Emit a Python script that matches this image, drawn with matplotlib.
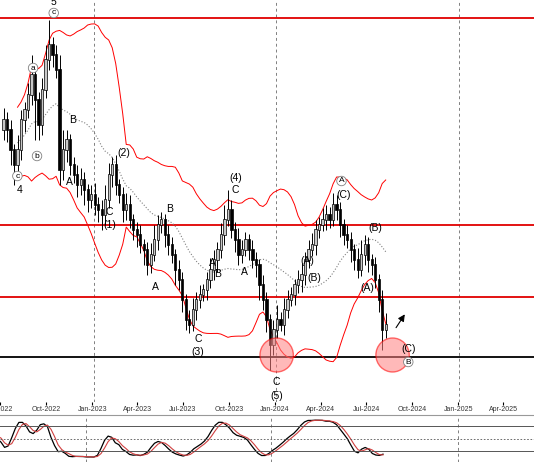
import matplotlib
matplotlib.use("Agg")
import matplotlib.pyplot as plt
import matplotlib.dates as mdates
from matplotlib.patches import Ellipse
import numpy as np
import pandas as pd

plt.rcParams['font.family'] = ['Liberation Sans', 'DejaVu Sans']

# weekly closes (chart price units)
closes = [280, 270, 250, 235, 250, 280, 290, 305, 325, 300, 275, 310, 340, 355, 345, 330,
          230, 250, 260, 235, 225, 215, 220, 210, 200, 205, 195, 190, 185, 200, 225, 235,
          215, 205, 190, 195, 180, 170, 165, 155, 150, 135, 145, 160, 175, 180, 165, 155,
          145, 130, 120, 100, 80, 75, 90, 100, 105, 110, 120, 130, 140, 150, 165, 180,
          190, 170, 160, 145, 150, 160, 150, 140, 135, 115, 100, 80, 55, 70, 80, 75,
          90, 100, 105, 115, 120, 125, 140, 150, 155, 170, 175, 180, 185, 180, 195, 190,
          175, 165, 160, 150, 140, 130, 145, 155, 140, 135, 120, 100, 70, 75]
wick_up = [12, 8, 10, 6, 15, 10, 8, 12, 20, 10, 8, 12, 15, 25, 8, 10,
           15, 20, 10, 6, 8, 10, 12, 8, 6, 10, 12, 8, 10, 15, 12, 8,
           10, 6, 8, 12, 10, 6, 8, 10, 6, 8, 12, 15, 10, 8, 6, 10,
           8, 6, 10, 8, 6, 10, 12, 8, 10, 6, 8, 12, 10, 8, 12, 15,
           20, 10, 8, 12, 10, 8, 6, 10, 8, 6, 10, 8, 6, 10, 15, 8,
           12, 10, 8, 6, 10, 12, 8, 10, 12, 10, 8, 12, 10, 8, 12, 10,
           8, 6, 10, 8, 6, 12, 15, 10, 8, 6, 8, 6, 10, 12]
wick_dn = [10, 12, 15, 20, 8, 10, 12, 8, 10, 40, 15, 10, 8, 10, 12, 8,
           15, 10, 12, 10, 8, 12, 10, 15, 12, 8, 10, 12, 15, 10, 8, 12,
           10, 8, 12, 10, 8, 10, 12, 8, 15, 10, 8, 6, 10, 8, 12, 10,
           8, 15, 10, 12, 10, 8, 6, 10, 8, 6, 10, 8, 10, 12, 8, 10,
           6, 8, 12, 10, 8, 6, 10, 8, 12, 15, 10, 12, 25, 10, 8, 6,
           10, 8, 6, 10, 8, 12, 10, 8, 6, 10, 8, 6, 10, 8, 6, 10,
           12, 10, 8, 12, 10, 8, 6, 10, 12, 10, 8, 12, 20, 8]
dates = pd.date_range('2022-07-08', periods=len(closes), freq='7D')

levels_red = [382, 175, 103]
level_black = 43

labels = [("5", 45, 2, False), ("c", 45, 13, True), ("a", 24, 68, True), ("b", 28, 156, True),
          ("c", 8, 176, True), ("4", 10, 190, False), ("B", 64, 120, False), ("A", 61, 182, False),
          ("(2)", 116, 153, False), ("C", 102, 212, False), ("(1)", 102, 225, False),
          ("B", 163, 209, False), ("A", 149, 287, False), ("A", 207, 263, False),
          ("B", 212, 274, False), ("A", 239, 272, False), ("C", 230, 190, False),
          ("(4)", 230, 178, False), ("C", 192, 339, False), ("(3)", 192, 352, False),
          ("C", 272, 382, False), ("(5)", 272, 396, False), ("(A)", 303, 261, False),
          ("(B)", 310, 278, False), ("A", 338, 181, True), ("(C)", 340, 195, False),
          ("(B)", 372, 228, False), ("(A)", 364, 288, False), ("(C)", 406, 349, False),
          ("B", 406, 362, True)]

x0 = mdates.date2num(pd.Timestamp('2022-07-20'))
def X(px):
    return x0 + px / 0.51
def Y(py):
    return 400 - py

c = np.array(closes, float)
o = np.r_[270, c[:-1]]
hi = np.maximum(o, c) + np.array(wick_up)
lo = np.minimum(o, c) - np.array(wick_dn)
d = mdates.date2num(dates)

fig = plt.figure(figsize=(5.34, 4.62), dpi=100)
ax = fig.add_axes([0, 1 - 402 / 462, 1, 402 / 462])
ax2 = fig.add_axes([0, 0, 1, 47 / 462])

for i in range(len(c)):
    ax.vlines(d[i], lo[i], hi[i], color='black', lw=0.7, zorder=3)
    up = c[i] >= o[i]
    ax.bar(d[i], abs(c[i] - o[i]) + 1, bottom=min(o[i], c[i]), width=4.5,
           color='#c8c8c8' if up else 'black', edgecolor='black', lw=0.5, zorder=4)

s = pd.Series(c)
ma = s.rolling(20, min_periods=5).mean()
sd = s.rolling(20, min_periods=5).std()
ax.plot(d, ma, color='gray', ls=':', lw=0.8, zorder=2)
ax.plot(d, ma + 2 * sd, color='red', lw=0.7, zorder=2)
ax.plot(d, ma - 2 * sd, color='red', lw=0.7, zorder=2)

for lv in levels_red:
    ax.axhline(lv, color='#e00000', lw=1.3, zorder=1)
ax.axhline(level_black, color='black', lw=1.3, zorder=1)

for px in (86, 271, 458):
    ax.axvline(X(px), color='gray', ls=(0, (3, 3)), lw=0.7, zorder=0)
    ax2.axvline(X(px), color='gray', ls=(0, (3, 3)), lw=0.7, zorder=0)

for px, py in ((272, 355), (390, 355)):
    ax.add_patch(Ellipse((X(px), Y(py)), 34 / 0.51, 34, facecolor='#ff8080', alpha=0.55,
                         edgecolor='red', lw=1, zorder=5))

ax.annotate('', xy=(X(404), Y(312)), xytext=(X(392), Y(330)),
            arrowprops=dict(arrowstyle='-|>', color='black', lw=0.8), zorder=6)

for t, px, py, circ in labels:
    if circ:
        ax.text(X(px), Y(py), t, ha='center', va='center', fontsize=6, zorder=7,
                bbox=dict(boxstyle='circle,pad=0.15', fc='white', ec='gray', lw=0.6))
    else:
        ax.text(X(px), Y(py), t, ha='center', va='center', fontsize=7.5, zorder=7)

ax.set_xlim(X(0), X(534))
ax.set_ylim(-2, 400)
ticks = pd.date_range('2022-07-01', '2025-04-01', freq='QS')
ax.set_xticks(mdates.date2num(ticks))
ax.set_xticklabels([t.strftime('%b-%Y') for t in ticks], fontsize=5, color='#333333')
ax.tick_params(axis='x', length=2, pad=1)
ax.set_yticks([])
for sp in ax.spines.values():
    sp.set_visible(False)

# stochastic
hh = pd.Series(hi).rolling(14, min_periods=1).max()
ll = pd.Series(lo).rolling(14, min_periods=1).min()
k = (100 * (s - ll) / (hh - ll)).rolling(3, min_periods=1).mean()
dd = k.rolling(3, min_periods=1).mean()
ax2.plot(d, k, color='black', lw=0.9)
ax2.plot(d, dd, color='#d04040', lw=0.8)
ax2.axhline(80, color='#555555', lw=0.7)
ax2.axhline(20, color='#555555', lw=0.7)
ax2.axhline(50, color='#555555', lw=0.6, ls=(0, (2, 2)))
ax2.set_xlim(X(0), X(534))
ax2.set_ylim(-5, 105)
ax2.set_xticks([]); ax2.set_yticks([])
for sp in ax2.spines.values():
    sp.set_visible(False)
ax2.spines['top'].set_visible(True)
ax2.spines['top'].set_color('#999999')

fig.savefig('out.png', dpi=100)
